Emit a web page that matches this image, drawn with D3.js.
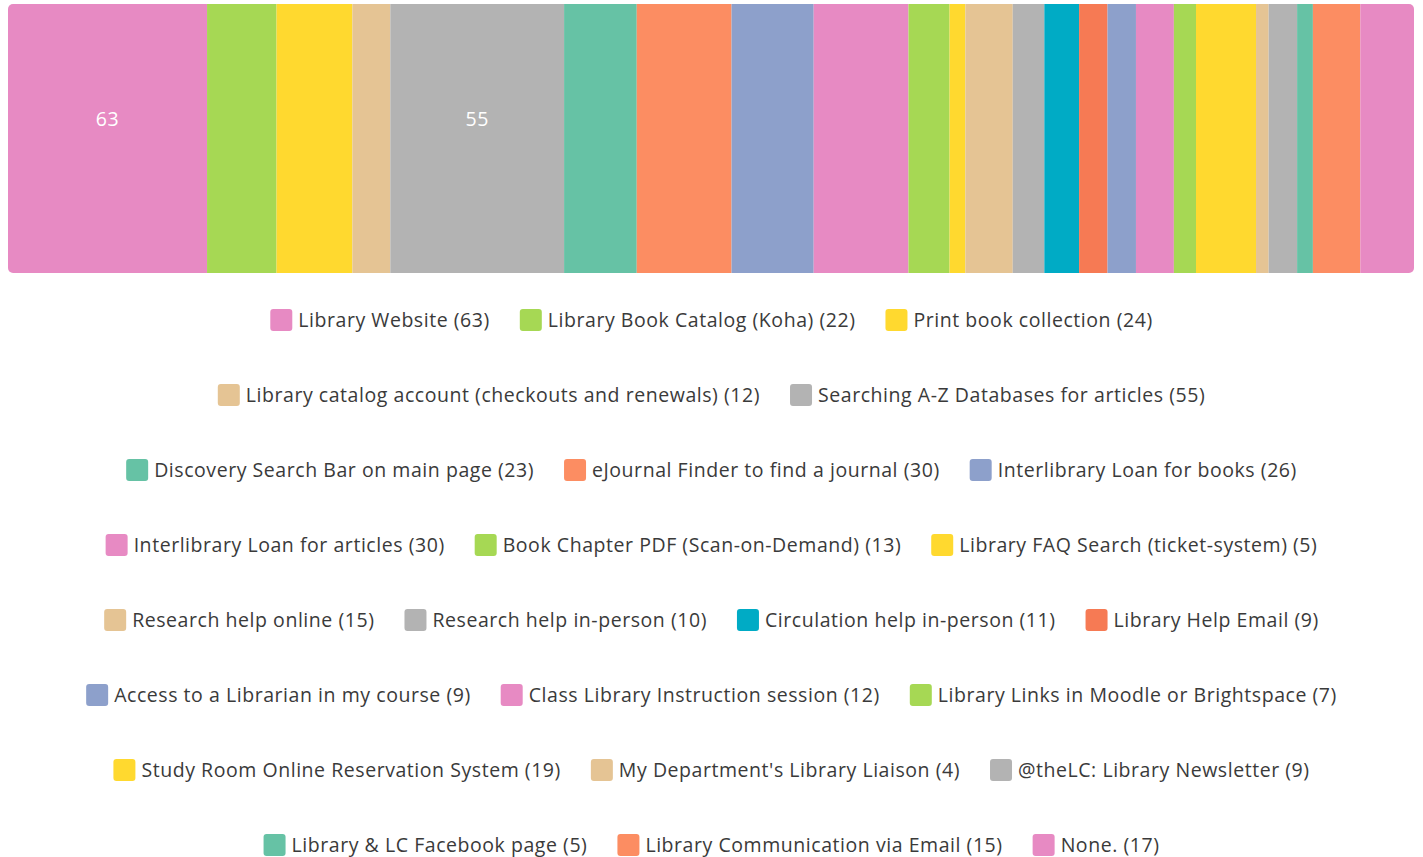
<!DOCTYPE html>
<html>
<head>
<meta charset="utf-8">
<script src="https://cdn.jsdelivr.net/npm/d3@7"></script>
<style>
  html, body { margin: 0; padding: 0; background: #fff; }
  svg { display: block; }
  text { font-family: "Open Sans", "Noto Sans", sans-serif; }
</style>
</head>
<body>
<svg id="chart" width="1423" height="857"></svg>
<script>
// Library services used — survey responses
const categories = [
  "Library Website",
  "Library Book Catalog (Koha)",
  "Print book collection",
  "Library catalog account (checkouts and renewals)",
  "Searching A-Z Databases for articles",
  "Discovery Search Bar on main page",
  "eJournal Finder to find a journal",
  "Interlibrary Loan for books",
  "Interlibrary Loan for articles",
  "Book Chapter PDF (Scan-on-Demand)",
  "Library FAQ Search (ticket-system)",
  "Research help online",
  "Research help in-person",
  "Circulation help in-person",
  "Library Help Email",
  "Access to a Librarian in my course",
  "Class Library Instruction session",
  "Library Links in Moodle or Brightspace",
  "Study Room Online Reservation System",
  "My Department's Library Liaison",
  "@theLC: Library Newsletter",
  "Library & LC Facebook page",
  "Library Communication via Email",
  "None."
];
const counts = [63, 22, 24, 12, 55, 23, 30, 26, 30, 13, 5, 15, 10, 11, 9, 9, 12, 7, 19, 4, 9, 5, 15, 17];
const palette = [
  "#e78ac3", "#a6d854", "#ffd92f", "#e5c494", "#b3b3b3", "#66c2a5", "#fc8d62", "#8da0cb",
  "#e78ac3", "#a6d854", "#ffd92f", "#e5c494", "#b3b3b3", "#00abc5", "#f67a54", "#8da0cb",
  "#e78ac3", "#a6d854", "#ffd92f", "#e5c494", "#b3b3b3", "#66c2a5", "#fc8d62", "#e78ac3"
];
// Only segments at or above this count get an inline value label
const labelThreshold = 50;

const W = 1423;
const svg = d3.select("#chart");
const bar = { left: 8, right: 1414, top: 4, bottom: 273, radius: 5 };

const items = categories.map((c, i) => ({ name: c, value: counts[i], color: palette[i] }));
let acc = 0;
items.forEach(d => { d.x0 = acc; acc += d.value; d.x1 = acc; });
const total = acc;

const x = d3.scaleLinear().domain([0, total]).range([bar.left, bar.right]);

// Clip the stack to a rounded rectangle
svg.append("defs").append("clipPath").attr("id", "barClip")
  .append("rect")
  .attr("x", bar.left).attr("y", bar.top)
  .attr("width", bar.right - bar.left).attr("height", bar.bottom - bar.top)
  .attr("rx", bar.radius).attr("ry", bar.radius);

const g = svg.append("g").attr("clip-path", "url(#barClip)");
g.selectAll("rect.seg").data(items).join("rect")
  .attr("class", "seg")
  .attr("x", d => x(d.x0))
  .attr("y", bar.top)
  .attr("width", d => x(d.x1) - x(d.x0))
  .attr("height", bar.bottom - bar.top)
  .attr("fill", d => d.color);

svg.selectAll("text.val").data(items.filter(d => d.value >= labelThreshold)).join("text")
  .attr("class", "val")
  .attr("x", d => (x(d.x0) + x(d.x1)) / 2)
  .attr("y", bar.top + (bar.bottom - bar.top) * 0.43 - 1)
  .attr("text-anchor", "middle")
  .attr("dominant-baseline", "central")
  .attr("fill", "#fff")
  .attr("font-size", 19.5)
  .attr("letter-spacing", 0.5)
  .text(d => d.value);

// Legend: wrapped rows, each row centred
const sw = 22, swGap = 6, itemGap = 30, rowStep = 75, firstRowY = 320, maxRow = 1350;
const fontSize = 19.5, tracking = 0.55;
const legend = svg.append("g");
const measure = legend.append("text").attr("font-size", fontSize).attr("letter-spacing", tracking);
items.forEach(d => {
  d.label = `${d.name} (${d.value})`;
  measure.text(d.label);
  d.tw = measure.node().getComputedTextLength();
  d.w = sw + swGap + d.tw;
});
measure.remove();

const rows = [];
let cur = [], curW = 0;
items.forEach(d => {
  const add = (cur.length ? itemGap : 0) + d.w;
  if (cur.length && curW + add > maxRow) { rows.push(cur); cur = []; curW = 0; }
  curW += (cur.length ? itemGap : 0) + d.w;
  cur.push(d);
});
if (cur.length) rows.push(cur);

rows.forEach((row, r) => {
  const rw = d3.sum(row, d => d.w) + itemGap * (row.length - 1);
  let cx = (W - rw) / 2;
  const cy = firstRowY + r * rowStep;
  row.forEach(d => {
    const it = legend.append("g").attr("transform", `translate(${cx},${cy})`);
    it.append("rect")
      .attr("x", 0).attr("y", -sw / 2)
      .attr("width", sw).attr("height", sw)
      .attr("rx", 3).attr("ry", 3)
      .attr("fill", d.color);
    it.append("text")
      .attr("x", sw + swGap).attr("y", -1)
      .attr("dominant-baseline", "central")
      .attr("font-size", fontSize)
      .attr("letter-spacing", tracking)
      .attr("fill", "#3a3a3a")
      .text(d.label);
    cx += d.w + itemGap;
  });
});
</script>
</body>
</html>
